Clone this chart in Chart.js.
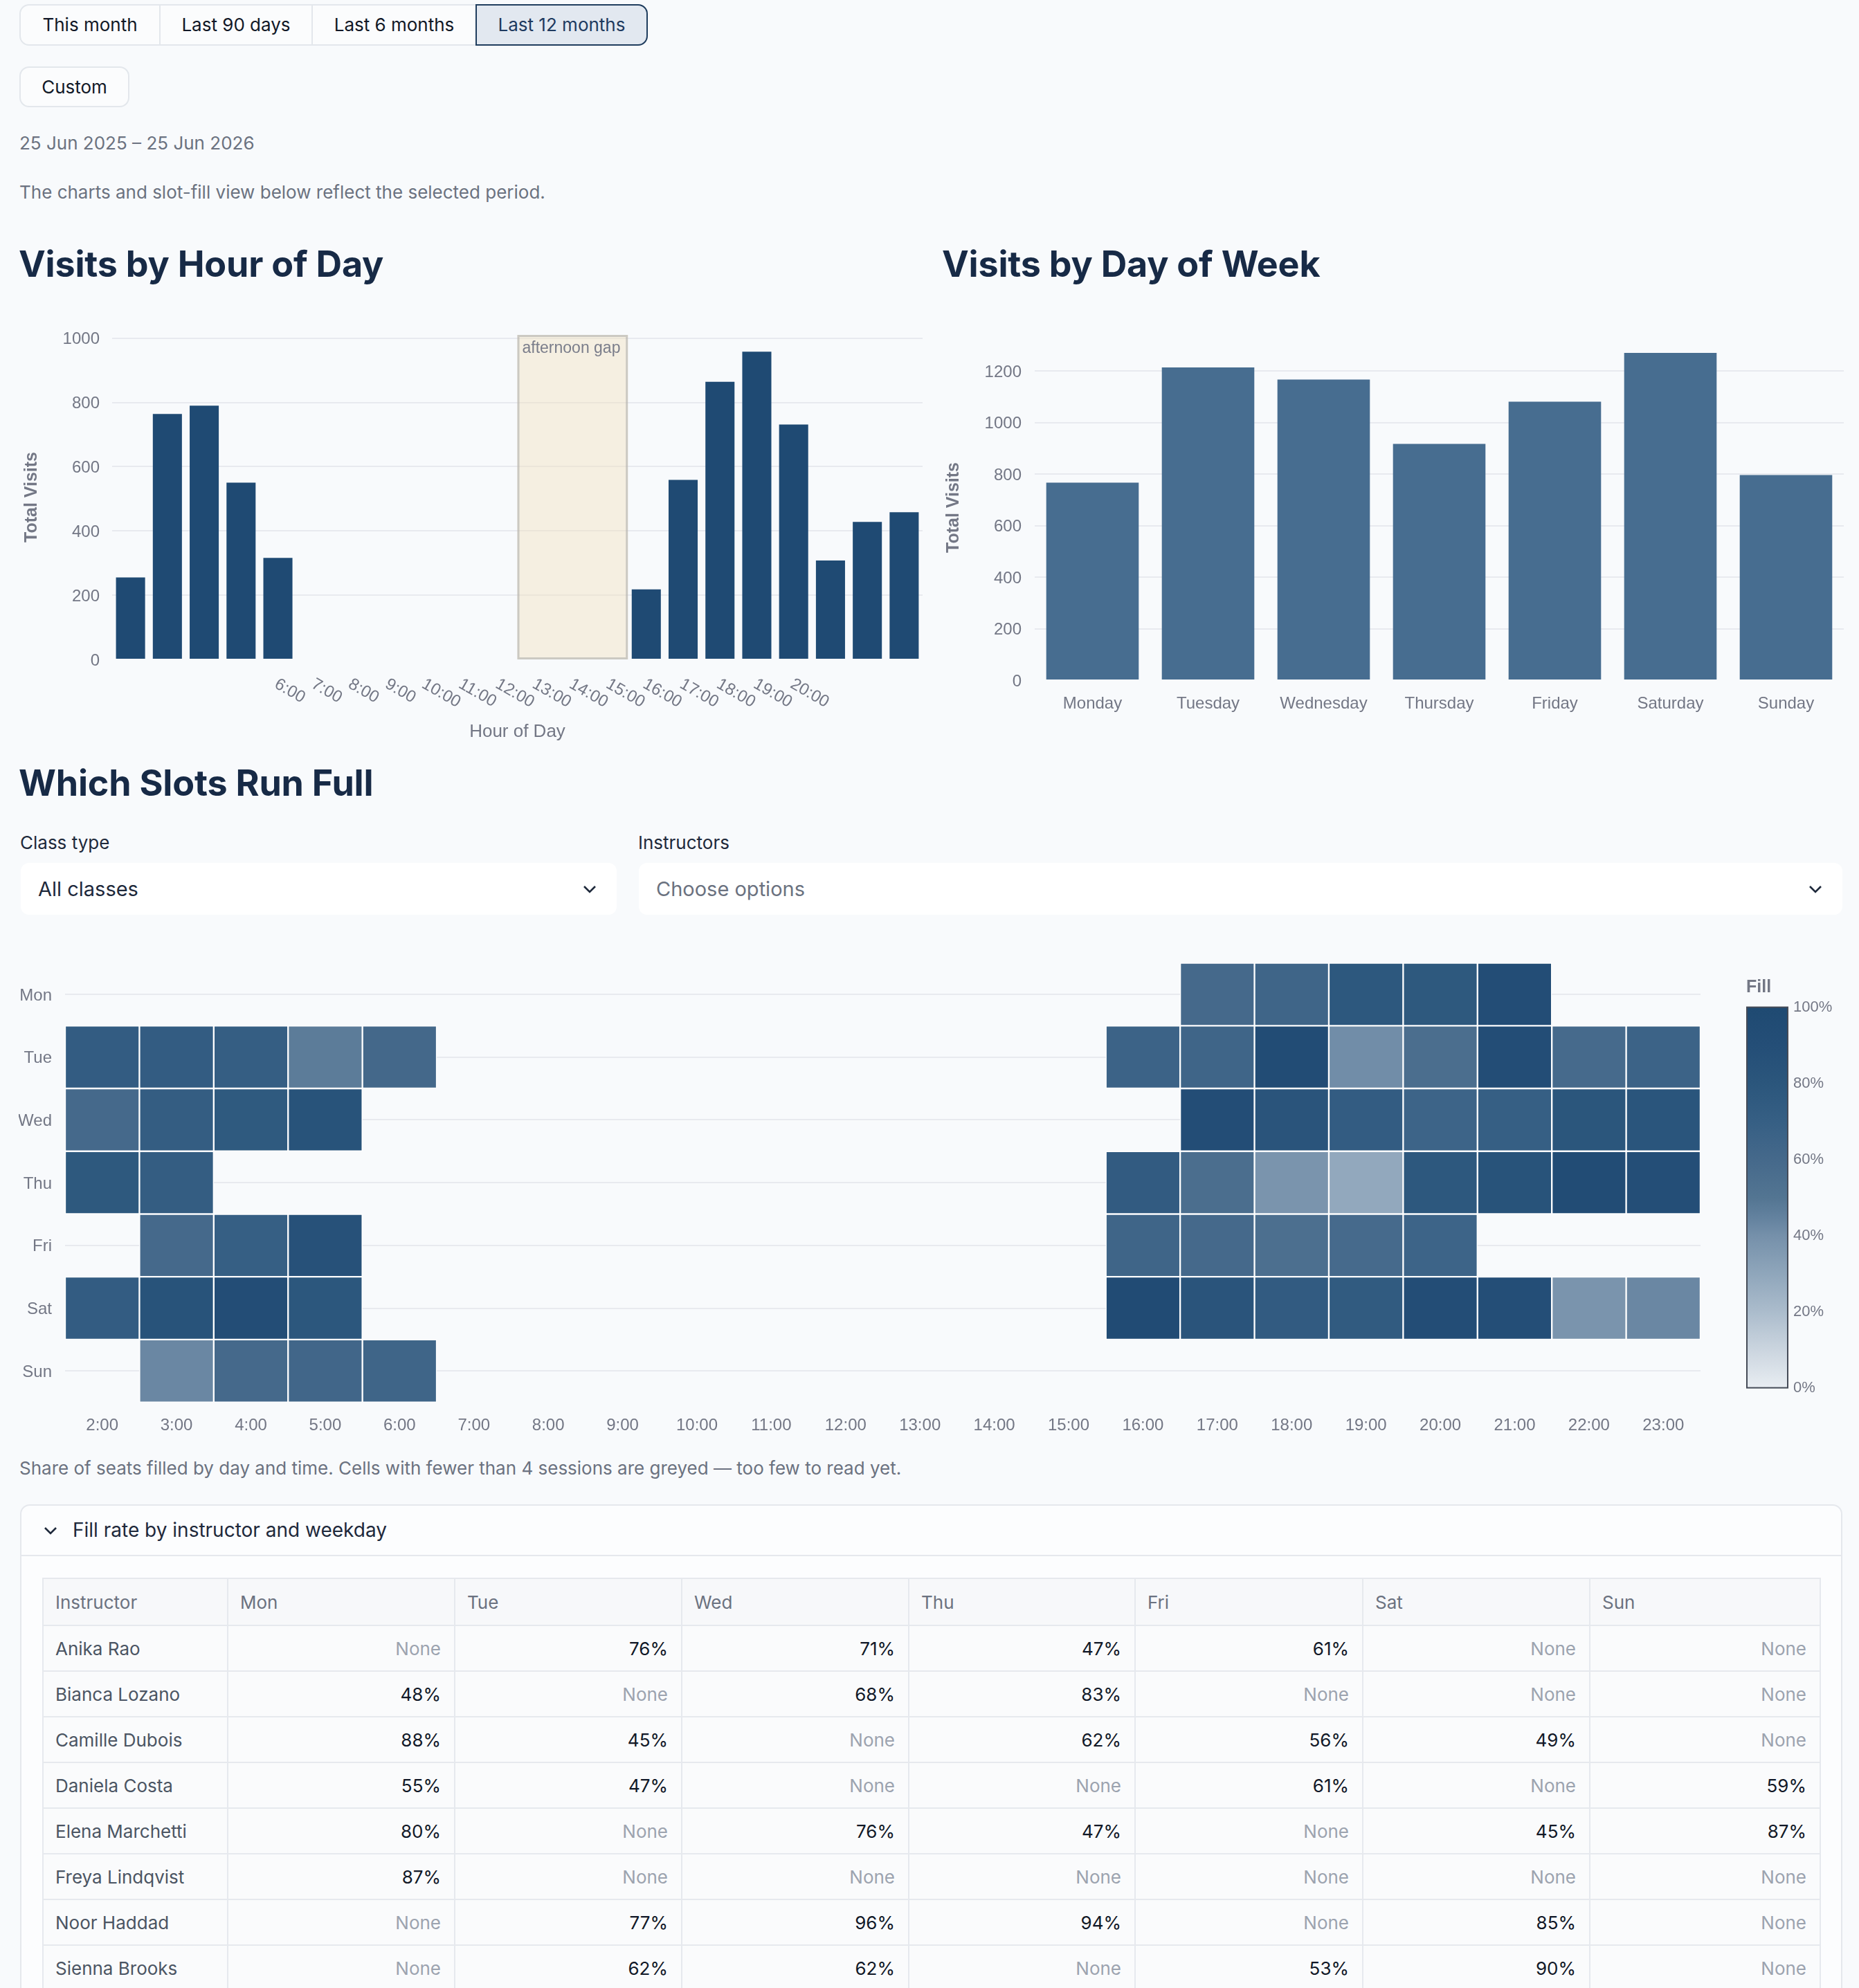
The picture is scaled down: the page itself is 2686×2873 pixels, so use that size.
<!DOCTYPE html>
<html lang="en">
<head>
<meta charset="utf-8">
<title>Visits and slot fill</title>
<script src="https://cdn.jsdelivr.net/npm/chart.js@4.4.1/dist/chart.umd.min.js"></script>
<style>
  html, body { margin: 0; padding: 0; background: #f8fafc; }
  body { position: relative; width: 2686px; height: 2873px; overflow: hidden;
         font-family: Inter, "Noto Sans", sans-serif; font-size: 26px; color: #1e293b; }
  .abs { position: absolute; }
  .seg { left: 28px; top: 6px; display: flex; border: 2px solid #e3e7ec; border-radius: 14px; background: #fbfcfd; }
  .seg div { height: 56px; line-height: 56px; text-align: center; color: #111827; border-left: 2px solid #e3e7ec; }
  .seg div:first-child { border-left: none; }
  .seg div.on { background: #e2e8f0; color: #1e3a5f; border: 2px solid #1f3d5e; margin: -2px -2px -2px 0;
                border-radius: 0 14px 14px 0; }
  .btn { left: 28px; top: 96px; width: 155px; height: 55px; line-height: 55px; text-align: center;
         border: 2px solid #e3e7ec; border-radius: 14px; background: #fbfcfd; color: #111827; }
  .muted { color: #6b7280; line-height: 36px; }
  .h { font-size: 52px; font-weight: 700; color: #172a46; line-height: 64px; letter-spacing: -0.2px; }
  .lbl { line-height: 36px; color: #1e293b; }
  .sel { background: #ffffff; border-radius: 12px; height: 75px; line-height: 75px; font-size: 29px; }
  .chev { position: absolute; }
  .exp { left: 29px; top: 2174px; width: 2629px; height: 800px; border: 2px solid #e5e8ed; border-radius: 14px; background: #fcfdfe; }
  .exp .head { height: 71px; border-bottom: 2px solid #e5e8ed; line-height: 71px; font-size: 28px; color: #1e293b; padding-left: 74px; }
  table { position: absolute; left: 61px; top: 2280px; border-collapse: collapse; table-layout: fixed;
          font-size: 26px; background: #fafbfc; }
  th, td { border: 2px solid #e6e9ee; padding: 0 19px 0 17px; }
  th { height: 66px; text-align: left; font-weight: 400; color: #6b7280; background: #f7f8fa; }
  td { height: 64px; text-align: right; color: #111827; }
  td.name { text-align: left; color: #4b5563; }
  td.none { color: #9ca3af; }
</style>
</head>
<body>

<div class="abs seg">
  <div style="width:200px">This month</div>
  <div style="width:218px">Last 90 days</div>
  <div style="width:235px">Last 6 months</div>
  <div class="on" style="width:245px">Last 12 months</div>
</div>
<div class="abs btn">Custom</div>
<div class="abs muted" style="left:28px; top:189px;">25 Jun 2025 – 25 Jun 2026</div>
<div class="abs muted" style="left:28px; top:260px;">The charts and slot-fill view below reflect the selected period.</div>

<div class="abs h" style="left:27px; top:350px;">Visits by Hour of Day</div>
<div class="abs h" style="left:1361px; top:350px;">Visits by Day of Week</div>

<div class="abs" style="left:27px; top:440px; width:1313px; height:650px;"><canvas id="hourChart"></canvas></div>
<div class="abs" style="left:1361px; top:440px; width:1305px; height:620px;"><canvas id="dayChart"></canvas></div>

<div class="abs h" style="left:27px; top:1100px;">Which Slots Run Full</div>
<div class="abs lbl" style="left:29px; top:1200px;">Class type</div>
<div class="abs lbl" style="left:922px; top:1200px;">Instructors</div>
<div class="abs sel" style="left:30px; top:1247px; width:861px;">
  <span style="padding-left:25px;">All classes</span>
  <svg class="chev" style="left:812px; top:32px;" width="20" height="12"><polyline points="2,2 10,10 18,2" fill="none" stroke="#1e293b" stroke-width="2.6"/></svg>
</div>
<div class="abs sel" style="left:923px; top:1247px; width:1739px;">
  <span style="padding-left:25px; color:#6b7280;">Choose options</span>
  <svg class="chev" style="left:1690px; top:32px;" width="20" height="12"><polyline points="2,2 10,10 18,2" fill="none" stroke="#1e293b" stroke-width="2.6"/></svg>
</div>

<div class="abs" style="left:27px; top:1370px; width:2659px; height:720px;"><canvas id="heatChart"></canvas></div>
<div class="abs muted" style="left:28px; top:2104px;">Share of seats filled by day and time. Cells with fewer than 4 sessions are greyed — too few to read yet.</div>

<div class="abs exp">
  <div class="head">Fill rate by instructor and weekday</div>
  <svg class="chev" style="left:32px; top:30px;" width="20" height="12"><polyline points="2,2 10,10 18,2" fill="none" stroke="#1e293b" stroke-width="2.6"/></svg>
</div>
<table id="fillTable"></table>

<script>
// visits per hour slot (2:00 .. 23:00), null = no classes that hour
const hourLabels = ["2:00", "3:00", "4:00", "5:00", "6:00", "7:00", "8:00", "9:00", "10:00", "11:00", "12:00",
                    "13:00", "14:00", "15:00", "16:00", "17:00", "18:00", "19:00", "20:00", "21:00", "22:00", "23:00"];
const hourVisits = [255, 764, 790, 550, 316, null, null, null, null, null, null,
                    null, null, null, 218, 559, 864, 958, 731, 308, 428, 458];
const hourTicksShown = ["6:00", "7:00", "8:00", "9:00", "10:00", "11:00", "12:00", "13:00",
                        "14:00", "15:00", "16:00", "17:00", "18:00", "19:00", "20:00"];
const hourAxisTicks = [0, 200, 400, 600, 800, 1000];
const gapFrom = "13:00";
const gapTo = "15:00";
const gapText = "afternoon gap";

// visits per weekday
const weekdays = ["Monday", "Tuesday", "Wednesday", "Thursday", "Friday", "Saturday", "Sunday"];
const weekdayVisits = [767, 1214, 1167, 917, 1081, 1270, 796];
const dayAxisTicks = [0, 200, 400, 600, 800, 1000, 1200];

// slot fill % (columns follow hourLabels)
const heatDays = ["Mon", "Tue", "Wed", "Thu", "Fri", "Sat", "Sun"];
const fillMon = [null, null, null, null, null, null, null, null, null, null, null, null, null, null, null, 60, 64, 78, 77, 93, null, null];
const fillTue = [73, 73, 71, 47, 61, null, null, null, null, null, null, null, null, null, 66, 64, 94, 41, 56, 93, 59, 66];
const fillWed = [60, 72, 76, 84, null, null, null, null, null, null, null, null, null, null, null, 92, 82, 73, 65, 70, 80, 81];
const fillThu = [77, 72, null, null, null, null, null, null, null, null, null, null, null, null, 74, 56, 38, 29, 78, 84, 94, 91];
const fillFri = [null, 60, 70, 86, null, null, null, null, null, null, null, null, null, null, 64, 60, 55, 59, 65, null, null, null];
const fillSat = [73, 84, 92, 79, null, null, null, null, null, null, null, null, null, null, 97, 82, 74, 75, 92, 90, 38, 43];
const fillSun = [null, 43, 60, 63, 64, null, null, null, null, null, null, null, null, null, null, null, null, null, null, null, null, null];
const fillRows = [fillMon, fillTue, fillWed, fillThu, fillFri, fillSat, fillSun];
const legendTicks = [0, 20, 40, 60, 80, 100];

// instructor x weekday fill %
const instructors = ["Anika Rao", "Bianca Lozano", "Camille Dubois", "Daniela Costa",
                     "Elena Marchetti", "Freya Lindqvist", "Noor Haddad", "Sienna Brooks"];
const tableDays = ["Mon", "Tue", "Wed", "Thu", "Fri", "Sat", "Sun"];
const instructorFill = [
    [null, 76, 71, 47, 61, null, null],
    [48, null, 68, 83, null, null, null],
    [88, 45, null, 62, 56, 49, null],
    [55, 47, null, null, 61, null, 59],
    [80, null, 76, 47, null, 45, 87],
    [87, null, null, null, null, null, null],
    [null, 77, 96, 94, null, 85, null],
    [null, 62, 62, null, 53, 90, null]
];

const chartFamily = '"Liberation Sans", Arial, sans-serif';
const muted = "#737785";
const gridColor = "#e8eaef";
const tickFont = { family: chartFamily, size: 24 };
const yTitleFont = { family: chartFamily, size: 25, weight: "bold" };

// colour ramp of the fill scale
const fillStops = [
    [0, "#e8edf2"], [0.1, "#cbd5df"], [0.2, "#abbccc"], [0.3, "#8fa6bb"], [0.4, "#7590aa"],
    [0.45, "#62819e"], [0.5, "#537592"], [0.6, "#45698b"], [0.7, "#365f84"],
    [0.8, "#2b567c"], [0.9, "#244e77"], [1, "#1f4a72"]
];

function hexRgb(h) {
    return [1, 3, 5].map(i => parseInt(h.slice(i, i + 2), 16));
}

function fillColor(t) {
    for (let i = 1; i < fillStops.length; i++) {
        const [t1, c1] = fillStops[i];
        const [t0, c0] = fillStops[i - 1];
        if (t <= t1) {
            const k = (t - t0) / (t1 - t0);
            const a = hexRgb(c0), b = hexRgb(c1);
            return "rgb(" + a.map((v, j) => Math.round(v + (b[j] - v) * k)).join(",") + ")";
        }
    }
    return fillStops[fillStops.length - 1][1];
}

const hideZero = c => c.tick.value === 0 ? "rgba(0,0,0,0)" : gridColor;
const plainNum = v => String(v);

// shaded band over the empty afternoon hours
const gapPlugin = {
    id: "gap",
    beforeDatasetsDraw(chart) {
        const { ctx, scales: { x, y } } = chart;
        const half = (x.getPixelForValue(1) - x.getPixelForValue(0)) / 2;
        const left = x.getPixelForValue(hourLabels.indexOf(gapFrom)) - half;
        const right = x.getPixelForValue(hourLabels.indexOf(gapTo)) + half;
        const top = y.getPixelForValue(y.max);
        const bottom = y.getPixelForValue(0);
        ctx.save();
        ctx.fillStyle = "rgba(240,222,184,0.4)";
        ctx.fillRect(left, top, right - left, bottom - top);
        ctx.strokeStyle = "rgba(170,170,170,0.55)";
        ctx.lineWidth = 3;
        ctx.strokeRect(left + 1.5, top + 1.5, right - left - 3, bottom - top - 3);
        ctx.fillStyle = "#7a7d8a";
        ctx.font = "23px " + chartFamily;
        ctx.textBaseline = "top";
        ctx.fillText(gapText, left + 7, top + 8);
        ctx.restore();
    }
};

// slanted hour labels, only the ones the original axis shows
const hourTickPlugin = {
    id: "hourTicks",
    afterDraw(chart) {
        const { ctx, chartArea, scales: { x } } = chart;
        ctx.save();
        ctx.fillStyle = muted;
        ctx.font = "24px " + chartFamily;
        ctx.textAlign = "left";
        ctx.textBaseline = "middle";
        hourTicksShown.forEach(lbl => {
            const px = x.getPixelForValue(hourLabels.indexOf(lbl));
            ctx.save();
            ctx.translate(px - 3, chartArea.bottom + 34);
            ctx.rotate(Math.PI / 6);
            ctx.fillText(lbl, 0, 0);
            ctx.restore();
        });
        ctx.restore();
    }
};

// gradient legend for the heatmap
const fillLegendPlugin = {
    id: "fillLegend",
    afterDraw(chart) {
        const { ctx, chartArea } = chart;
        const x0 = chartArea.right + 67, w = 59;
        const top = chartArea.top + 64, h = 550;
        ctx.save();
        const g = ctx.createLinearGradient(0, top + h, 0, top);
        fillStops.forEach(([t, c]) => g.addColorStop(t, c));
        ctx.fillStyle = g;
        ctx.fillRect(x0, top, w, h);
        ctx.strokeStyle = "#454b57";
        ctx.lineWidth = 2;
        ctx.strokeRect(x0, top, w, h);
        ctx.fillStyle = muted;
        ctx.font = "22px " + chartFamily;
        ctx.textBaseline = "middle";
        legendTicks.forEach(t => ctx.fillText(t + "%", x0 + w + 8, top + h - h * t / 100));
        ctx.font = "bold 25px " + chartFamily;
        ctx.fillText("Fill", x0 - 1, top - 28);
        ctx.restore();
    }
};

function loadHourChart() {
    new Chart(document.getElementById("hourChart"), {
        type: "bar",
        data: {
            labels: hourLabels,
            datasets: [{ data: hourVisits, backgroundColor: "#1f4a73", categoryPercentage: 0.79, barPercentage: 1 }]
        },
        options: {
            responsive: true, maintainAspectRatio: false, animation: false,
            layout: { padding: { top: 44, right: 7 } },
            plugins: { legend: { display: false }, tooltip: { enabled: false } },
            scales: {
                x: {
                    grid: { display: false, drawTicks: false }, border: { display: false },
                    ticks: { display: false },
                    title: { display: true, text: "Hour of Day", color: muted,
                             font: { family: chartFamily, size: 26 }, padding: { top: 0, bottom: 17 } },
                    afterFit: s => { s.height = 137; }
                },
                y: {
                    min: 0, max: 1010,
                    afterBuildTicks: s => { s.ticks = hourAxisTicks.map(v => ({ value: v })); },
                    ticks: { callback: plainNum, padding: 18, labelOffset: 2, color: muted, font: tickFont },
                    grid: { color: hideZero, lineWidth: 2, drawTicks: false }, border: { display: false },
                    title: { display: true, text: "Total Visits", color: muted, font: yTitleFont, padding: { top: 4, bottom: 0 } },
                    afterFit: s => { s.width = 135; }
                }
            }
        },
        plugins: [gapPlugin, hourTickPlugin]
    });
}

function loadDayChart() {
    new Chart(document.getElementById("dayChart"), {
        type: "bar",
        data: {
            labels: weekdays,
            datasets: [{ data: weekdayVisits, backgroundColor: "#476d90", categoryPercentage: 0.8, barPercentage: 1 }]
        },
        options: {
            responsive: true, maintainAspectRatio: false, animation: false,
            layout: { padding: { top: 44, right: 2 } },
            plugins: { legend: { display: false }, tooltip: { enabled: false } },
            scales: {
                x: {
                    grid: { display: false, drawTicks: false }, border: { display: false },
                    ticks: { padding: 20, color: muted, font: tickFont, maxRotation: 0 },
                    afterFit: s => { s.height = 77; }
                },
                y: {
                    min: 0, max: 1340,
                    afterBuildTicks: s => { s.ticks = dayAxisTicks.map(v => ({ value: v })); },
                    ticks: { callback: plainNum, padding: 19, labelOffset: 2, color: muted, font: tickFont },
                    grid: { color: hideZero, lineWidth: 2, drawTicks: false }, border: { display: false },
                    title: { display: true, text: "Total Visits", color: muted, font: yTitleFont, padding: { top: 2, bottom: 0 } },
                    afterFit: s => { s.width = 134; }
                }
            }
        }
    });
}

function loadHeatmap() {
    // one floating-bar dataset per weekday row, spanning its row band on the y scale
    const datasets = heatDays.map((day, d) => ({
        label: day,
        data: fillRows[d].map(v => v == null ? null : [d - 0.5, d + 0.5]),
        backgroundColor: fillRows[d].map(v => v == null ? "rgba(0,0,0,0)" : fillColor(v / 100)),
        borderColor: "#ffffff",
        borderWidth: 1.5,
        borderSkipped: false,
        grouped: false,
        categoryPercentage: 1,
        barPercentage: 1
    }));

    new Chart(document.getElementById("heatChart"), {
        type: "bar",
        data: { labels: hourLabels, datasets: datasets },
        options: {
            responsive: true, maintainAspectRatio: false, animation: false,
            layout: { padding: { top: 21.6, right: 229 } },
            plugins: { legend: { display: false }, tooltip: { enabled: false } },
            scales: {
                x: {
                    grid: { display: false, drawTicks: false }, border: { display: false },
                    ticks: { padding: 19, color: muted, font: tickFont, maxRotation: 0, autoSkip: false },
                    afterFit: s => { s.height = 63.4; }
                },
                y: {
                    type: "linear", min: -0.5, max: 6.5, reverse: true,
                    afterBuildTicks: s => { s.ticks = heatDays.map((_, i) => ({ value: i })); },
                    ticks: { callback: v => heatDays[v], padding: 19, labelOffset: 2, color: muted, font: tickFont },
                    grid: { color: gridColor, lineWidth: 2, drawTicks: false }, border: { display: false },
                    // rows sit well inside the band, so no extra room for the end labels
                    afterFit: s => { s.width = 67; s.paddingTop = 0; s.paddingBottom = 0; }
                }
            }
        },
        plugins: [fillLegendPlugin]
    });
}

function loadTable() {
    const table = document.getElementById("fillTable");
    const widths = [267, 328, 328, 328, 327, 329, 328, 333];
    let html = "<colgroup>" + widths.map(w => '<col style="width:' + w + 'px">').join("") + "</colgroup>";
    html += "<tr><th>Instructor</th>" + tableDays.map(d => "<th>" + d + "</th>").join("") + "</tr>";
    instructors.forEach((name, r) => {
        html += '<tr><td class="name">' + name + "</td>";
        instructorFill[r].forEach(v => {
            html += v == null ? '<td class="none">None</td>' : "<td>" + v + "%</td>";
        });
        html += "</tr>";
    });
    table.innerHTML = html;
}

loadHourChart();
loadDayChart();
loadHeatmap();
loadTable();
</script>
</body>
</html>
